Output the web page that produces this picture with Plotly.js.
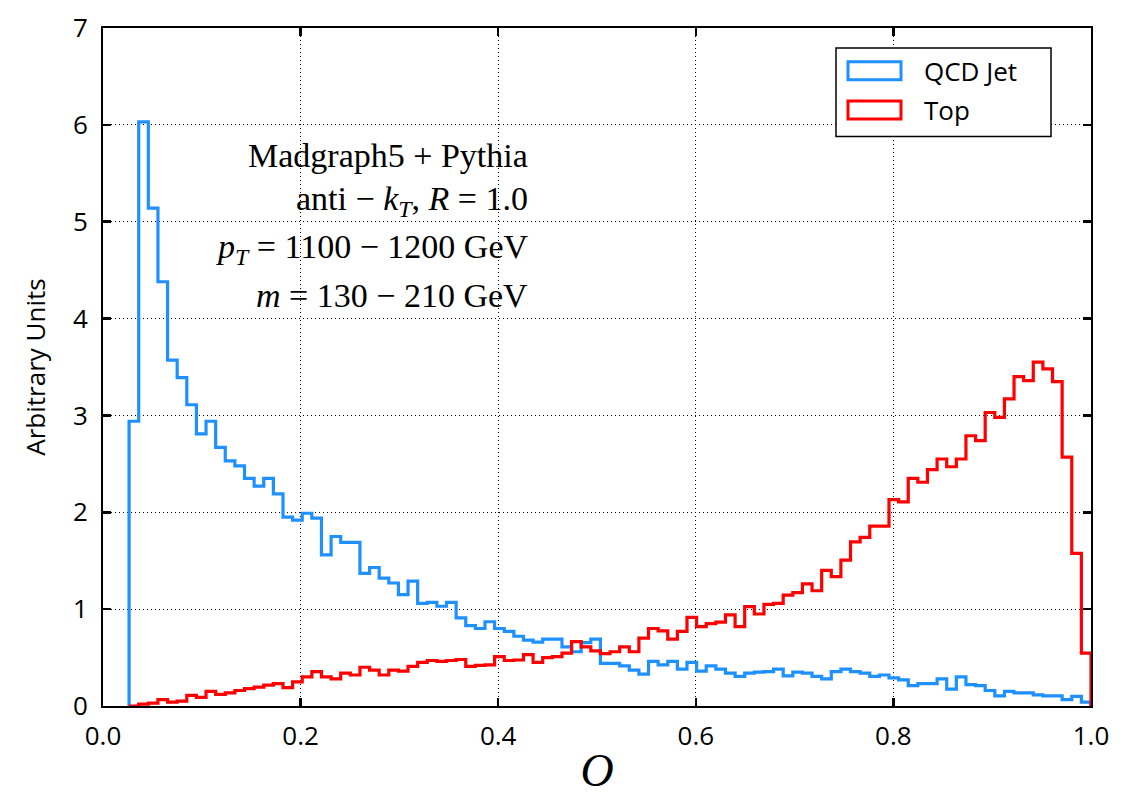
<!DOCTYPE html>
<html>
<head>
<meta charset="utf-8">
<script src="https://cdn.plot.ly/plotly-3.0.1.min.js"></script>
<style>html,body{margin:0;padding:0;background:#fff;}#chart{width:1132px;height:796px;}</style>
</head>
<body>
<div id="chart"></div>
<script>
// Histogram binning (100 bins)
const binStart = 0.0264;
const binWidth = 0.009736;

// Series names
const seriesNames = ["QCD Jet", "Top"];

// QCD Jet histogram heights (arbitrary units), one per bin
const qcdValues = [
  2.94, 6.03, 5.14, 4.38, 3.57, 3.39, 3.11, 2.81, 2.94, 2.67,
  2.53, 2.48, 2.35, 2.27, 2.35, 2.19, 1.95, 1.92, 1.99, 1.94,
  1.56, 1.75, 1.69, 1.69, 1.37, 1.43, 1.32, 1.27, 1.15, 1.29,
  1.06, 1.07, 1.03, 1.07, 0.91, 0.83, 0.80, 0.87, 0.80, 0.77,
  0.72, 0.68, 0.66, 0.69, 0.69, 0.61, 0.56, 0.655, 0.69, 0.44,
  0.44, 0.415, 0.37, 0.33, 0.46, 0.425, 0.46, 0.38, 0.45, 0.36,
  0.415, 0.38, 0.34, 0.305, 0.34, 0.35, 0.355, 0.38, 0.31, 0.35,
  0.34, 0.305, 0.28, 0.355, 0.38, 0.355, 0.34, 0.305, 0.32, 0.29,
  0.27, 0.21, 0.23, 0.23, 0.28, 0.175, 0.30, 0.22, 0.21, 0.16,
  0.105, 0.15, 0.135, 0.135, 0.115, 0.105, 0.105, 0.065, 0.10, 0.04
];

// Top histogram heights (arbitrary units), one per bin
const topValues = [
  0.0, 0.02, 0.03, 0.065, 0.04, 0.05, 0.11, 0.09, 0.15, 0.12,
  0.135, 0.16, 0.18, 0.195, 0.215, 0.23, 0.19, 0.25, 0.30, 0.355,
  0.30, 0.28, 0.34, 0.32, 0.40, 0.37, 0.32, 0.37, 0.36, 0.41,
  0.45, 0.47, 0.46, 0.47, 0.48, 0.41, 0.42, 0.425, 0.51, 0.47,
  0.475, 0.53, 0.45, 0.50, 0.51, 0.545, 0.665, 0.61, 0.57, 0.54,
  0.56, 0.61, 0.56, 0.70, 0.80, 0.775, 0.69, 0.77, 0.915, 0.82,
  0.85, 0.865, 0.94, 0.82, 1.025, 0.95, 1.05, 1.06, 1.145, 1.17,
  1.26, 1.19, 1.40, 1.335, 1.507, 1.695, 1.74, 1.857, 1.857, 2.13,
  2.107, 2.35, 2.31, 2.44, 2.55, 2.47, 2.55, 2.79, 2.74, 3.03,
  2.98, 3.17, 3.40, 3.36, 3.55, 3.48, 3.35, 2.57, 1.575, 0.545
];

// Tick labels
const xTickVals = [0.0, 0.2, 0.4, 0.6, 0.8, 1.0];
const xTickText = ["0.0", "0.2", "0.4", "0.6", "0.8", "1.0"];
const yTickVals = [0, 1, 2, 3, 4, 5, 6, 7];
const yTickText = ["0", "1", "2", "3", "4", "5", "6", "7"];

// Info text lines
const infoLines = [
  "Madgraph5 + Pythia",
  "anti − <i>k</i><sub><i>T</i></sub>, <i>R</i> = 1.0",
  "<i>p</i><sub><i>T</i></sub> = 1100 − 1200 GeV",
  "<i>m</i> = 130 − 210 GeV"
];

const colors = ["#1E90FF", "#FF0000"];

function stepTrace(values, name, color) {
  const n = values.length;
  const xs = [binStart];
  const ys = [0];
  for (let i = 0; i < n; i++) {
    xs.push(binStart + i * binWidth);
    ys.push(values[i]);
  }
  const end = binStart + n * binWidth;
  xs.push(end); ys.push(values[n - 1]);
  xs.push(end); ys.push(0);
  return {
    type: "scatter", mode: "lines", name: name,
    x: xs, y: ys,
    line: { shape: "hv", color: color, width: 3.2 },
    showlegend: false, hoverinfo: "skip", cliponaxis: false
  };
}

const traces = [
  stepTrace(qcdValues, seriesNames[0], colors[0]),
  stepTrace(topValues, seriesNames[1], colors[1])
];

const sansFont = { family: "Open Sans, Noto Sans, sans-serif", size: 26, color: "#000" };
const serifFont = { family: "Liberation Serif, DejaVu Serif, serif", size: 34, color: "#000" };

const annotations = [];
const infoY = [5.68, 5.21, 4.72, 4.24];
infoLines.forEach((t, i) => {
  annotations.push({
    x: 0.4324, y: infoY[i], xref: "x", yref: "y",
    xanchor: "right", yanchor: "middle",
    text: t, showarrow: false, font: serifFont
  });
});

// Custom legend (box with hollow patches)
const shapes = [
  { type: "rect", xref: "paper", yref: "paper",
    x0: (836 - 103) / 988, x1: (1051 - 103) / 988,
    y0: (706 - 136.5) / 678, y1: (706 - 48) / 678,
    line: { color: "#000", width: 1.5 }, fillcolor: "#fff", layer: "above" }
];
const legendRows = [70.7, 110];
seriesNames.forEach((nm, i) => {
  const cy = legendRows[i];
  shapes.push({
    type: "rect", xref: "paper", yref: "paper",
    x0: (848 - 103) / 988, x1: (901 - 103) / 988,
    y0: (706 - (cy + 9)) / 678, y1: (706 - (cy - 9)) / 678,
    line: { color: colors[i], width: 3 }, fillcolor: "rgba(0,0,0,0)", layer: "above"
  });
  annotations.push({
    xref: "paper", yref: "paper",
    x: (922 - 103) / 988, y: (706 - cy) / 678,
    xanchor: "left", yanchor: "middle",
    text: nm, showarrow: false, font: sansFont
  });
});

const axisCommon = {
  ticks: "inside", ticklen: 8, tickwidth: 2.5, tickcolor: "#000",
  showline: true, linecolor: "#000", linewidth: 2, mirror: "ticks",
  showgrid: true, gridcolor: "#000", gridwidth: 1, griddash: "1px,3px",
  zeroline: false, tickfont: sansFont, fixedrange: true
};

const layout = {
  width: 1132, height: 796,
  paper_bgcolor: "#fff", plot_bgcolor: "#fff",
  margin: { l: 103, r: 41, t: 28, b: 90 },
  xaxis: Object.assign({}, axisCommon, {
    range: [0, 1], tickmode: "array", tickvals: xTickVals, ticktext: xTickText,
    ticklabelstandoff: 6,
    title: { text: "<i>O</i>", font: { family: "Liberation Serif, DejaVu Serif, serif", size: 46, color: "#000" }, standoff: 8 }
  }),
  yaxis: Object.assign({}, axisCommon, {
    range: [0, 7], tickmode: "array", tickvals: yTickVals, ticktext: yTickText,
    ticklabelstandoff: 8,
    title: { text: "Arbitrary Units", font: sansFont, standoff: 20 }
  }),
  shapes: shapes,
  annotations: annotations,
  showlegend: false
};

Plotly.newPlot("chart", traces, layout, { displayModeBar: false, staticPlot: true });
</script>
</body>
</html>
